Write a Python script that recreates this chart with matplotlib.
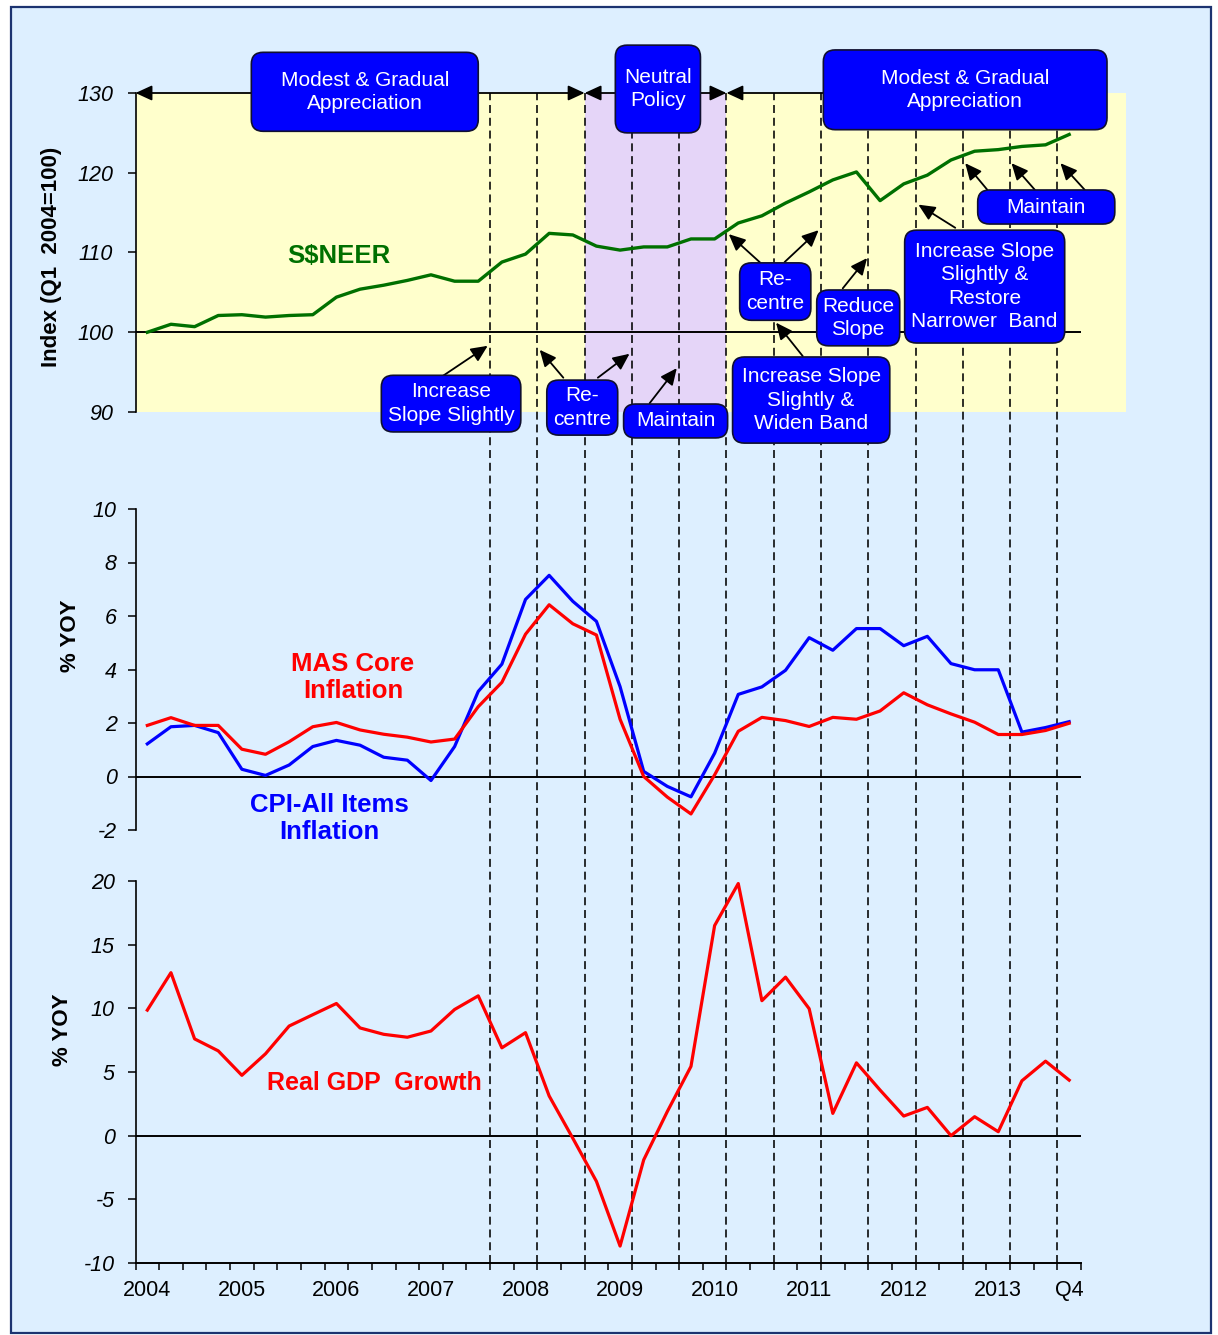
import numpy as np
import matplotlib
matplotlib.use("Agg")
import matplotlib.pyplot as plt
from matplotlib.patches import FancyBboxPatch, Rectangle

plt.rcParams['font.family'] = ['Liberation Sans', 'DejaVu Sans']
plt.rcParams['axes.unicode_minus'] = False

# ---------------- data (quarterly, 2004Q1 .. 2013Q4) ----------------
start_year = 2004
n_quarters = 40

sgd_neer = [100.0, 101.0, 100.7, 102.1, 102.2, 101.9, 102.1, 102.2, 104.4, 105.4,
            105.9, 106.5, 107.2, 106.4, 106.4, 108.8, 109.8, 112.4, 112.2, 110.8,
            110.3, 110.7, 110.7, 111.7, 111.7, 113.7, 114.6, 116.2, 117.6, 119.1,
            120.1, 116.5, 118.6, 119.7, 121.6, 122.7, 122.9, 123.3, 123.5, 124.8]

core_inflation = [1.91, 2.20, 1.91, 1.91, 1.02, 0.83, 1.30, 1.86, 2.02, 1.74,
                  1.58, 1.47, 1.29, 1.40, 2.61, 3.52, 5.32, 6.42, 5.71, 5.29,
                  2.14, 0.00, -0.77, -1.40, 0.06, 1.69, 2.21, 2.09, 1.87, 2.21,
                  2.14, 2.45, 3.13, 2.68, 2.34, 2.03, 1.57, 1.57, 1.72, 1.99]

cpi_inflation = [1.22, 1.86, 1.91, 1.64, 0.27, 0.04, 0.43, 1.12, 1.35, 1.17,
                 0.72, 0.61, -0.15, 1.12, 3.18, 4.20, 6.62, 7.52, 6.55, 5.80,
                 3.36, 0.19, -0.37, -0.76, 0.87, 3.07, 3.35, 3.97, 5.19, 4.72,
                 5.53, 5.53, 4.89, 5.24, 4.22, 3.99, 3.99, 1.66, 1.83, 2.05]

gdp_growth = [9.86, 12.80, 7.60, 6.66, 4.74, 6.43, 8.61, 9.50, 10.38, 8.46,
              7.96, 7.73, 8.22, 9.91, 10.98, 6.90, 8.09, 3.12, -0.20, -3.59,
              -8.67, -1.90, 1.90, 5.44, 16.50, 19.80, 10.60, 12.45, 9.97, 1.75,
              5.72, 3.58, 1.54, 2.22, 0.00, 1.49, 0.31, 4.31, 5.85, 4.36]

x_labels = ['2004', '2005', '2006', '2007', '2008', '2009', '2010', '2011',
            '2012', '2013', 'Q4']
x_label_pos = [0, 4, 8, 12, 16, 20, 24, 28, 32, 36, 39]

top_ticks = [90, 100, 110, 120, 130]
mid_ticks = [-2, 0, 2, 4, 6, 8, 10]
bot_ticks = [-10, -5, 0, 5, 10, 15, 20]

# policy statements: boundary index between quarters (semi-annual)
policy_boundaries = [15, 17, 19, 21, 23, 25, 27, 29, 31, 33, 35, 37, 39]
neutral_span = (19, 25)

# ---------------- styling ----------------
BG = '#DDEFFF'
YELLOW = '#FFFFCC'
PURPLE = '#E5D5F8'
GREEN = '#007000'
BOXBLUE = '#0000FF'
W, H = 1218, 1335

fig = plt.figure(figsize=(W / 100, H / 100), dpi=100)
fig.patch.set_facecolor('white')
fig.add_artist(Rectangle((11 / W, 1 - 1333 / H), 1200 / W, 1326 / H,
                         transform=fig.transFigure, facecolor=BG,
                         edgecolor='#1C3370', linewidth=1.6, zorder=-5))

L = 135.5
R = 1081.0
qpx = (R - L) / n_quarters
x = np.arange(n_quarters)

ax_top = fig.add_axes([L / W, 1 - 412 / H, (1126 - L) / W, 319 / H])
ax_mid = fig.add_axes([L / W, 1 - 830 / H, (R - L) / W, 321 / H])
ax_bot = fig.add_axes([L / W, 1 - 1263 / H, (R - L) / W, 382 / H])

top_xmax = -0.5 + (1126 - L) / qpx

for ax in (ax_top, ax_mid, ax_bot):
    for s in ('top', 'right', 'bottom'):
        ax.spines[s].set_visible(False)
    ax.spines['left'].set_linewidth(1.2)
    ax.tick_params(axis='y', direction='out', length=6, width=1.1)


def italic_yticks(ax, ticks):
    ax.set_yticks(ticks)
    ax.set_yticklabels([str(t) for t in ticks], fontstyle='italic',
                       fontsize=15.5)


# ---------------- top: S$NEER ----------------
ax_top.set_facecolor(YELLOW)
ax_top.set_xlim(-0.5, top_xmax)
ax_top.set_ylim(90, 130)
italic_yticks(ax_top, top_ticks)
ax_top.tick_params(axis='y', pad=10)
ax_top.set_xticks([])
ax_top.axvspan(neutral_span[0] - 0.5, neutral_span[1] - 0.5,
               color=PURPLE, zorder=0.5, lw=0)
ax_top.hlines(100, -0.5, n_quarters - 0.5, color='black', lw=1.4, zorder=2)
ax_top.plot(x, sgd_neer, color=GREEN, lw=2.4, zorder=3,
            solid_joinstyle='round')
ax_top.text(8.1, 109.6, 'S$NEER', color=GREEN, fontsize=18.5,
            fontweight='bold', ha='center', va='center')

# dashed policy lines through all three panels
pt = ax_top.get_position()
pb = ax_bot.get_position()
ymin_frac = (pb.y0 - pt.y0) / pt.height
ax_top.vlines(np.array(policy_boundaries) - 0.5, ymin_frac, 1,
              transform=ax_top.get_xaxis_transform(), colors='black',
              linestyles=(0, (5, 3)), lw=1.15, clip_on=False, zorder=1.5)

# box geometry: keep corners circular in pixels
px_x = pt.width * W / (top_xmax + 0.5)
px_y = pt.height * H / 40.0
aspect = px_x / px_y


def policy_box(x0, x1, y0, y1, text):
    box = FancyBboxPatch((x0, y0), x1 - x0, y1 - y0,
                         boxstyle='round,pad=0,rounding_size=0.5',
                         mutation_aspect=aspect, facecolor=BOXBLUE,
                         edgecolor='#101030', lw=1.2, zorder=5,
                         clip_on=False)
    ax_top.add_patch(box)
    ax_top.text((x0 + x1) / 2, (y0 + y1) / 2, text, color='white',
                fontsize=15, ha='center', va='center', linespacing=1.3,
                zorder=6, clip_on=False)


def arrow(tail, head, both=False, lw=1.3):
    style = '<|-|>' if both else '-|>'
    ax_top.annotate('', xy=head, xytext=tail,
                    arrowprops=dict(arrowstyle=style + ',head_length=10,head_width=4.6',
                                    color='black', lw=lw, shrinkA=0, shrinkB=0,
                                    mutation_scale=1),
                    annotation_clip=False, zorder=4)


# regime arrows along the top
arrow((-0.5, 130), (neutral_span[0] - 0.5, 130), both=True)
arrow((neutral_span[0] - 0.5, 130), (neutral_span[1] - 0.5, 130), both=True)
arrow((33.0, 130), (neutral_span[1] - 0.5, 130))

policy_box(4.4, 14.0, 125.2, 135.1, 'Modest & Gradual\nAppreciation')
policy_box(19.8, 23.4, 125.0, 136.0, 'Neutral\nPolicy')
policy_box(28.6, 40.6, 125.4, 135.4, 'Modest & Gradual\nAppreciation')

# statement call-outs
arrow((12.44, 94.4), (14.4, 98.3))
policy_box(9.9, 15.8, 87.5, 94.6, 'Increase\nSlope Slightly')

arrow((17.6, 94.3), (16.6, 97.8))
arrow((19.06, 94.3), (20.4, 97.3))
policy_box(16.9, 19.9, 87.1, 94.0, 'Re-\ncentre')

arrow((21.25, 91.1), (22.4, 95.5))
policy_box(20.15, 24.55, 86.75, 91.0, 'Maintain')

arrow((25.94, 108.7), (24.6, 112.3))
arrow((26.96, 108.8), (28.4, 112.8))
policy_box(25.06, 28.07, 101.5, 108.7, 'Re-\ncentre')

arrow((27.73, 97.0), (26.6, 101.2))
policy_box(24.76, 31.41, 86.1, 96.9, 'Increase Slope\nSlightly &\nWiden Band')

arrow((29.42, 105.5), (30.45, 109.3))
policy_box(28.32, 31.83, 98.3, 105.3, 'Reduce\nSlope')

arrow((34.18, 113.1), (32.62, 116.0))
policy_box(32.04, 38.81, 98.65, 112.8,
           'Increase Slope\nSlightly &\nRestore\nNarrower  Band')

for tx, hx in ((35.54, 34.6), (37.55, 36.56), (39.66, 38.63)):
    arrow((tx, 117.85), (hx, 121.2))
policy_box(35.13, 40.93, 113.57, 117.84, 'Maintain')

# ---------------- middle: inflation ----------------
ax_mid.set_facecolor('none')
ax_mid.set_xlim(-0.5, n_quarters - 0.5)
ax_mid.set_ylim(-2, 10)
italic_yticks(ax_mid, mid_ticks)
ax_mid.tick_params(axis='y', pad=7.5)
ax_mid.set_xticks([])
ax_mid.axhline(0, color='black', lw=1.4, zorder=2)
ax_mid.plot(x, cpi_inflation, color='#0000FF', lw=2.3, zorder=3)
ax_mid.plot(x, core_inflation, color='#FF0000', lw=2.3, zorder=3)
ax_mid.text(8.7, 3.7, 'MAS Core\nInflation', color='#FF0000', fontsize=18.5,
            fontweight='bold', ha='center', va='center', linespacing=1.2)
ax_mid.text(7.7, -1.57, 'CPI-All Items\nInflation', color='#0000FF',
            fontsize=18.5, fontweight='bold', ha='center', va='center',
            linespacing=1.2)

# ---------------- bottom: real GDP growth ----------------
ax_bot.set_facecolor('none')
ax_bot.spines['bottom'].set_visible(True)
ax_bot.spines['bottom'].set_linewidth(1.4)
ax_bot.set_xlim(-0.5, n_quarters - 0.5)
ax_bot.set_ylim(-10, 20)
italic_yticks(ax_bot, bot_ticks)
ax_bot.tick_params(axis='y', pad=9)
ax_bot.axhline(0, color='black', lw=1.4, zorder=2)
ax_bot.plot(x, gdp_growth, color='#FF0000', lw=2.3, zorder=3)
ax_bot.text(9.6, 4.1, 'Real GDP  Growth', color='#FF0000', fontsize=18,
            fontweight='bold', ha='center', va='center')

ax_bot.set_xticks(np.arange(-0.5, n_quarters, 1.0))
ax_bot.set_xticklabels([])
ax_bot.tick_params(axis='x', which='major', direction='out', length=5,
                   width=1.1)
ax_bot.set_xticks(x_label_pos, minor=True)
ax_bot.set_xticklabels(x_labels, minor=True)
ax_bot.tick_params(axis='x', which='minor', length=0, pad=12, labelsize=15.5)

# axis titles
fig.text(52 / W, 1 - 257 / H, 'Index (Q1  2004=100)', rotation=90,
         fontsize=16, fontweight='bold', ha='center', va='center')
fig.text(70 / W, 1 - 636 / H, '% YOY', rotation=90, fontsize=16,
         fontweight='bold', ha='center', va='center')
fig.text(62 / W, 1 - 1030 / H, '% YOY', rotation=90, fontsize=16,
         fontweight='bold', ha='center', va='center')

fig.savefig('out.png', dpi=100, facecolor=fig.get_facecolor())
